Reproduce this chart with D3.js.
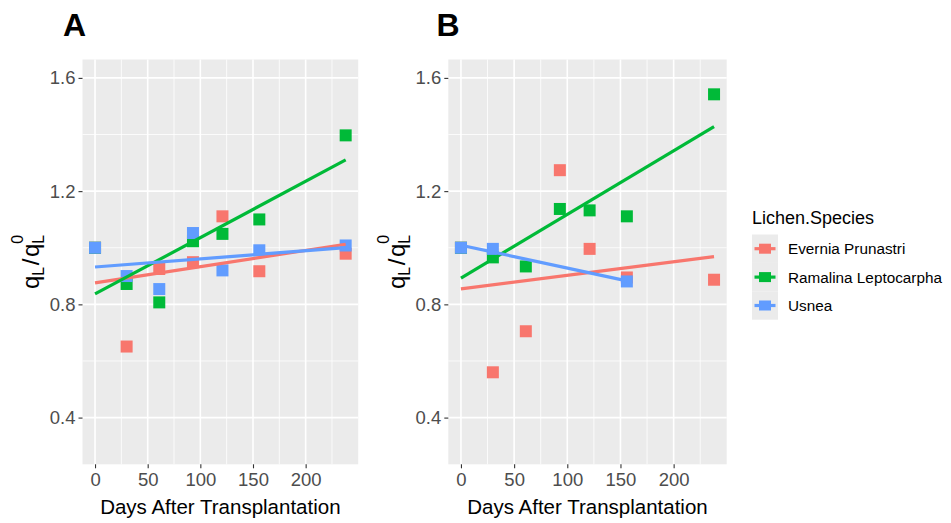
<!DOCTYPE html>
<html>
<head>
<meta charset="utf-8">
<script src="https://cdn.jsdelivr.net/npm/d3@7"></script>
<style>
  body { margin: 0; background: #ffffff; }
  svg { display: block; font-family: "Liberation Sans", Arial, sans-serif; }
</style>
</head>
<body>
<svg id="chart" width="951" height="523"></svg>
<script>
// Sampling days (days after transplantation)
const days = [0, 30, 61, 93, 121, 156, 238];

const species = ["Evernia Prunastri", "Ramalina Leptocarpha", "Usnea"];
const speciesColors = ["#F8766D", "#00BA38", "#619CFF"];

// Panel A: q_L / q_L^0 per species (null = not measured)
const everniaA  = [1.000, 0.651, 0.925, 0.949, 1.111, 0.917, 0.979];
const ramalinaA = [1.000, 0.872, 0.807, 1.023, 1.049, 1.100, 1.397];
const usneaA    = [1.000, 0.900, 0.854, 1.052, 0.920, 0.991, 1.008];

// Panel B
const everniaB  = [1.000, 0.560, 0.705, 1.274, 0.996, 0.895, 0.887];
const ramalinaB = [1.000, 0.966, 0.934, 1.137, 1.132, 1.111, 1.542];
const usneaB    = [1.000, 0.996, null,  null,  null,  0.881, null ];

const xTicks = [0, 50, 100, 150, 200];
const xMinor = [25, 75, 125, 175, 225];
const yTicks = [0.4, 0.8, 1.2, 1.6];
const yTickLabels = ["0.4", "0.8", "1.2", "1.6"];
const yMinor = [0.6, 1.0, 1.4];
const yLimits = [0.3, 1.6];

const xTitle = "Days After Transplantation";
const legendTitle = "Lichen.Species";

// ---- layout ----
const svg = d3.select("#chart");
svg.append("rect").attr("width", 951).attr("height", 523).attr("fill", "#ffffff");

const panelTop = 59.5, panelBottom = 464.3;
const panels = [
  { title: "A", series: [everniaA, ramalinaA, usneaA], left: 82.5, right: 358.2, titleX: 63, yLabelX: 39 },
  { title: "B", series: [everniaB, ramalinaB, usneaB], left: 448.3, right: 726.7, titleX: 436.5, yLabelX: 405 }
];

const expand = (lo, hi) => { const d = (hi - lo) * 0.05; return [lo - d, hi + d]; };

function fitLine(xs, ys) {
  const n = xs.length;
  const mx = d3.mean(xs), my = d3.mean(ys);
  let sxy = 0, sxx = 0;
  for (let i = 0; i < n; i++) { sxy += (xs[i] - mx) * (ys[i] - my); sxx += (xs[i] - mx) ** 2; }
  const b = sxy / sxx, a = my - b * mx;
  const x0 = d3.min(xs), x1 = d3.max(xs);
  return [[x0, a + b * x0], [x1, a + b * x1]];
}

panels.forEach(p => {
  const x = d3.scaleLinear().domain(expand(d3.min(days), d3.max(days))).range([p.left, p.right]);
  const y = d3.scaleLinear().domain(expand(yLimits[0], yLimits[1])).range([panelBottom, panelTop]);
  const g = svg.append("g");

  // panel background
  g.append("rect").attr("x", p.left).attr("y", panelTop)
    .attr("width", p.right - p.left).attr("height", panelBottom - panelTop)
    .attr("fill", "#EBEBEB");

  // grid
  g.selectAll(".xminor").data(xMinor).join("line")
    .attr("x1", d => x(d)).attr("x2", d => x(d)).attr("y1", panelTop).attr("y2", panelBottom)
    .attr("stroke", "#ffffff").attr("stroke-width", 0.8);
  g.selectAll(".yminor").data(yMinor).join("line")
    .attr("y1", d => y(d)).attr("y2", d => y(d)).attr("x1", p.left).attr("x2", p.right)
    .attr("stroke", "#ffffff").attr("stroke-width", 0.8);
  g.selectAll(".xmajor").data(xTicks).join("line")
    .attr("x1", d => x(d)).attr("x2", d => x(d)).attr("y1", panelTop).attr("y2", panelBottom)
    .attr("stroke", "#ffffff").attr("stroke-width", 1.6);
  g.selectAll(".ymajor").data(yTicks).join("line")
    .attr("y1", d => y(d)).attr("y2", d => y(d)).attr("x1", p.left).attr("x2", p.right)
    .attr("stroke", "#ffffff").attr("stroke-width", 1.6);

  // axes
  const xAxis = d3.axisBottom(x).tickValues(xTicks).tickSize(4).tickPadding(4);
  const yAxis = d3.axisLeft(y).tickValues(yTicks).tickFormat((d, i) => yTickLabels[i]).tickSize(4).tickPadding(3);
  const gx = g.append("g").attr("transform", `translate(0,${panelBottom})`).call(xAxis);
  const gy = g.append("g").attr("transform", `translate(${p.left},0)`).call(yAxis);
  [gx, gy].forEach(a => {
    a.select(".domain").remove();
    a.selectAll(".tick line").attr("stroke", "#333333").attr("stroke-width", 1.1);
    a.selectAll(".tick text").attr("fill", "#4D4D4D").style("font-size", "18.5px")
      .style("font-family", "'Liberation Sans', Arial, sans-serif");
  });
  gx.selectAll(".tick text").attr("dy", "0.75em");

  // points (drawn per species, last species on top)
  p.series.forEach((vals, si) => {
    const pts = days.map((d, i) => [d, vals[i]]).filter(q => q[1] !== null);
    g.selectAll(null).data(pts).join("rect")
      .attr("x", d => x(d[0]) - 6).attr("y", d => y(d[1]) - 6)
      .attr("width", 12).attr("height", 12)
      .attr("fill", speciesColors[si]);
  });

  // linear fits
  p.series.forEach((vals, si) => {
    const pts = days.map((d, i) => [d, vals[i]]).filter(q => q[1] !== null);
    const seg = fitLine(pts.map(q => q[0]), pts.map(q => q[1]));
    g.append("path")
      .attr("d", d3.line().x(d => x(d[0])).y(d => y(d[1]))(seg))
      .attr("fill", "none").attr("stroke", speciesColors[si]).attr("stroke-width", 3.2);
  });

  // x title
  g.append("text").attr("x", (p.left + p.right) / 2).attr("y", 514)
    .attr("text-anchor", "middle").style("font-size", "20.5px").attr("fill", "#000")
    .text(xTitle);

  // y title: q_L / q_L^0
  const yl = g.append("g").attr("transform", `translate(${p.yLabelX},${(panelTop + panelBottom) / 2}) rotate(-90)`);
  const big = 24, small = 16;
  const t1 = yl.append("text").style("font-size", big + "px").text("q");
  const t2 = yl.append("text").style("font-size", small + "px").text("L");
  const t3 = yl.append("text").style("font-size", big + "px").text("/");
  const t4 = yl.append("text").style("font-size", big + "px").text("q");
  const t5 = yl.append("text").style("font-size", small + "px").text("L");
  const t6 = yl.append("text").style("font-size", small + "px").text("0");
  let cx = 0;
  const w = t => t.node().getComputedTextLength();
  t1.attr("x", cx).attr("y", 0); cx += w(t1);
  t2.attr("x", cx).attr("y", 5); cx += w(t2) + 1.5;
  t3.attr("x", cx).attr("y", 0); cx += w(t3) + 1.5;
  t4.attr("x", cx).attr("y", 0); cx += w(t4);
  t5.attr("x", cx).attr("y", 5);
  t6.attr("x", cx).attr("y", -16); cx += Math.max(w(t5), w(t6));
  yl.selectAll("text").attr("fill", "#000").attr("transform", `translate(${-cx / 2},0)`);

  // panel tag
  svg.append("text").attr("x", p.titleX).attr("y", 36)
    .style("font-size", "32px").style("font-weight", "bold").attr("fill", "#000")
    .text(p.title);
});

// ---- legend ----
const lg = svg.append("g");
lg.append("text").attr("x", 752).attr("y", 224).style("font-size", "18px").attr("fill", "#000").text(legendTitle);
const keyTop = 234.5, keyH = 28.4, keyW = 26;
species.forEach((s, i) => {
  const cy = keyTop + keyH * i + keyH / 2;
  lg.append("rect").attr("x", 752).attr("y", keyTop + keyH * i).attr("width", keyW).attr("height", keyH)
    .attr("fill", "#EBEBEB");
  lg.append("line").attr("x1", 754.5).attr("x2", 775.5).attr("y1", cy).attr("y2", cy)
    .attr("stroke", speciesColors[i]).attr("stroke-width", 3.2);
  lg.append("rect").attr("x", 752 + keyW / 2 - 6).attr("y", cy - 5).attr("width", 12).attr("height", 10)
    .attr("fill", speciesColors[i]);
  lg.append("text").attr("x", 788).attr("y", cy + 5.5).style("font-size", "15.3px").attr("fill", "#000").text(s);
});
</script>
</body>
</html>
